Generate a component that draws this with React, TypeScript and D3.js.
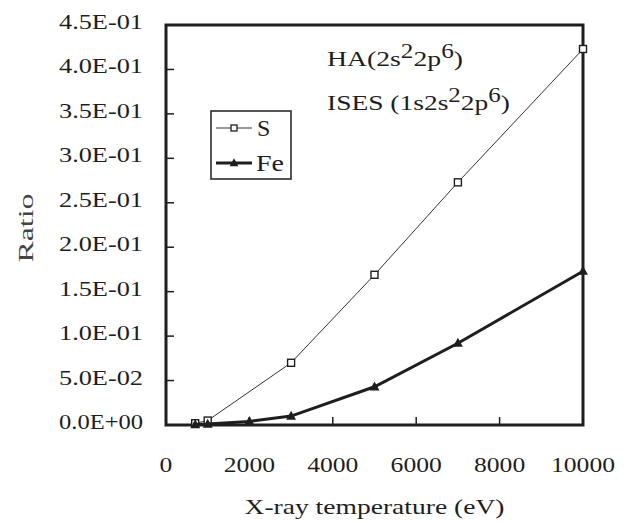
import React from 'react';
import * as d3 from 'd3';

const sTemps = [700, 1000, 3000, 5000, 7000, 10000];
const sRatios = [0.002, 0.005, 0.070, 0.169, 0.273, 0.423];
const feTemps = [700, 1000, 2000, 3000, 5000, 7000, 10000];
const feRatios = [0.0005, 0.001, 0.004, 0.010, 0.043, 0.092, 0.173];
const yTicks = [0, 0.05, 0.1, 0.15, 0.2, 0.25, 0.3, 0.35, 0.4, 0.45];
const yTickLabels = ['0.0E+00', '5.0E-02', '1.0E-01', '1.5E-01', '2.0E-01', '2.5E-01', '3.0E-01', '3.5E-01', '4.0E-01', '4.5E-01'];
const xTicks = [0, 2000, 4000, 6000, 8000, 10000];
const xTickLabels = ['0', '2000', '4000', '6000', '8000', '10000'];
const seriesNames = ['S', 'Fe'];

const W = 631, H = 522;
const M = { left: 166, right: 583, top: 25, bottom: 425 };
const FONT = "'Liberation Serif', 'Times New Roman', Times, serif";
const INK = '#1e1e1e';
const ts = { fontFamily: FONT };

export default function App() {
  const x = d3.scaleLinear().domain([0, 10000]).range([M.left, M.right]);
  const y = d3.scaleLinear().domain([0, 0.45]).range([M.bottom, M.top]);
  const line = d3.line<[number, number]>().x(d => x(d[0])).y(d => y(d[1]));
  const sData: [number, number][] = sTemps.map((t, i) => [t, sRatios[i]]);
  const feData: [number, number][] = feTemps.map((t, i) => [t, feRatios[i]]);
  const tri = (cx: number, cy: number, s: number) =>
    `M${cx},${cy - s * 0.6}L${cx + s * 0.55},${cy + s * 0.4}L${cx - s * 0.55},${cy + s * 0.4}Z`;

  return (
    <svg width={W} height={H} style={{ position: 'absolute', left: 0, top: 0, background: '#fff' }}>
      <rect x={0} y={0} width={W} height={H} fill="#fff" />
      {/* y ticks */}
      {yTicks.map((v, i) => (
        <g key={'y' + i}>
          {i > 0 && i < yTicks.length - 1 && (
            <line x1={M.left} x2={M.left + 8} y1={y(v)} y2={y(v)} stroke={INK} strokeWidth={1.5} />
          )}
          <text x={143} y={y(v) + 4} textAnchor="end" fontSize={21} fill={INK} style={ts}
            textLength={yTickLabels[i].length * 12} lengthAdjust="spacingAndGlyphs">{yTickLabels[i]}</text>
        </g>
      ))}
      {/* x ticks */}
      {xTicks.map((v, i) => (
        <g key={'x' + i}>
          {i > 0 && i < xTicks.length - 1 && (
            <line x1={x(v)} x2={x(v)} y1={M.bottom} y2={M.bottom - 8} stroke={INK} strokeWidth={1.5} />
          )}
          <text x={x(v)} y={472} textAnchor="middle" fontSize={22} fill={INK} style={ts}
            textLength={xTickLabels[i].length * 12.8} lengthAdjust="spacingAndGlyphs">{xTickLabels[i]}</text>
        </g>
      ))}
      {/* frame */}
      <rect x={M.left} y={M.top} width={M.right - M.left} height={M.bottom - M.top}
        fill="none" stroke={INK} strokeWidth={3} />
      {/* S series */}
      <path d={line(sData) || ''} fill="none" stroke="#333" strokeWidth={1} />
      {sData.map((d, i) => (
        <rect key={'s' + i} x={x(d[0]) - 3.5} y={y(d[1]) - 3.5} width={7} height={7}
          fill="#fff" stroke={INK} strokeWidth={1.4} />
      ))}
      {/* Fe series */}
      <path d={line(feData) || ''} fill="none" stroke={INK} strokeWidth={3} />
      {feData.map((d, i) => (
        <path key={'f' + i} d={tri(x(d[0]), y(d[1]), 9)} fill={INK} />
      ))}
      {/* legend */}
      <rect x={211} y={111} width={80} height={68} fill="#fff" stroke={INK} strokeWidth={1.5} />
      <line x1={216} x2={252} y1={128} y2={128} stroke="#333" strokeWidth={1} />
      <rect x={231} y={125} width={6} height={6} fill="#fff" stroke={INK} strokeWidth={1.3} />
      <text x={257} y={136} fontSize={24} fill={INK} style={ts}>{seriesNames[0]}</text>
      <line x1={216} x2={252} y1={163} y2={163} stroke={INK} strokeWidth={3} />
      <path d={tri(234, 163, 8)} fill={INK} />
      <text x={256} y={171} fontSize={23} fill={INK} style={ts} textLength={28} lengthAdjust="spacingAndGlyphs">{seriesNames[1]}</text>
      {/* annotations */}
      <text x={327} y={66} fontSize={22} fill={INK} style={ts} textLength={136} lengthAdjust="spacingAndGlyphs">
        HA(2s<tspan dy={-8} fontSize={20}>2</tspan><tspan dy={8}>2p</tspan><tspan dy={-8} fontSize={20}>6</tspan><tspan dy={8}>)</tspan>
      </text>
      <text x={327} y={110} fontSize={22} fill={INK} style={ts} textLength={183} lengthAdjust="spacingAndGlyphs">
        ISES (1s2s<tspan dy={-8} fontSize={20}>2</tspan><tspan dy={8}>2p</tspan><tspan dy={-8} fontSize={20}>6</tspan><tspan dy={8}>)</tspan>
      </text>
      {/* axis titles */}
      <text x={(M.left + M.right) / 2} y={514} textAnchor="middle" fontSize={22} fill={INK} style={ts}
        textLength={260} lengthAdjust="spacingAndGlyphs">X-ray temperature (eV)</text>
      <text transform={`translate(33,228) rotate(-90)`} textAnchor="middle" fontSize={22} fill="#444" style={ts}
        textLength={69} lengthAdjust="spacingAndGlyphs">Ratio</text>
    </svg>
  );
}
